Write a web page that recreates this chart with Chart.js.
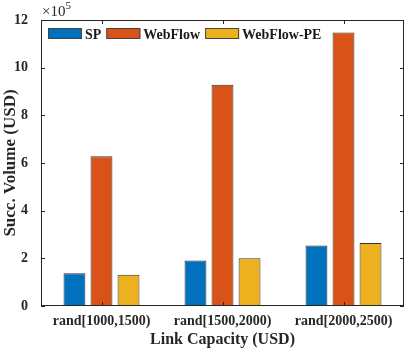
<!DOCTYPE html>
<html>
<head>
<meta charset="utf-8">
<script src="https://cdn.jsdelivr.net/npm/chart.js@4"></script>
<style>
  html, body { margin: 0; padding: 0; background: #fff; }
  #wrap { width: 407px; height: 349px; }
</style>
</head>
<body>
<div id="wrap"><canvas id="volChart"></canvas></div>
<script>
// data (USD)
const categories = ['rand[1000,1500)', 'rand[1500,2000)', 'rand[2000,2500)'];
const spValues = [137000, 191000, 254000];
const webflowValues = [628000, 928000, 1148000];
const webflowPeValues = [131000, 200000, 264000];
const seriesNames = ['SP', 'WebFlow', 'WebFlow-PE'];
const yTicks = [0, 2, 4, 6, 8, 10, 12];   // x 10^5

const colors = ['#0072BD', '#D95319', '#EDB120'];
const FONT = '"Liberation Serif", "Times New Roman", serif';

// frame, inward ticks, exponent and legend drawn like matlab
const matlabAxes = {
    id: 'matlabAxes',
    afterDraw(chart) {
        const ctx = chart.ctx;
        const a = chart.chartArea;
        const x = chart.scales.x, y = chart.scales.y;
        ctx.save();
        ctx.strokeStyle = '#262626';
        ctx.lineWidth = 1;
        ctx.strokeRect(a.left + 0.5, a.top + 0.5, a.right - a.left - 1, a.bottom - a.top - 1);
        ctx.beginPath();
        yTicks.forEach(function(t) {
            const py = Math.round(y.getPixelForValue(t * 1e5)) + 0.5;
            ctx.moveTo(a.left, py); ctx.lineTo(a.left + 4, py);
            ctx.moveTo(a.right, py); ctx.lineTo(a.right - 4, py);
        });
        categories.forEach(function(c, i) {
            const px = Math.round(x.getPixelForValue(i)) + 0.5;
            ctx.moveTo(px, a.bottom); ctx.lineTo(px, a.bottom - 4);
            ctx.moveTo(px, a.top); ctx.lineTo(px, a.top + 4);
        });
        ctx.stroke();

        // x10^5
        ctx.fillStyle = '#262626';
        ctx.textBaseline = 'alphabetic';
        ctx.textAlign = 'left';
        ctx.font = '15px ' + FONT;
        ctx.fillText('\u00d710', a.left + 1, a.top - 4);
        const w = ctx.measureText('\u00d710').width;
        ctx.font = '11px ' + FONT;
        ctx.fillText('5', a.left + 1 + w, a.top - 11);

        // legend
        let lx = a.left + 7;
        const ly = a.top + 8;
        ctx.font = 'bold 14px ' + FONT;
        chart.data.datasets.forEach(function(ds) {
            ctx.fillStyle = ds.backgroundColor;
            ctx.fillRect(lx, ly, 34, 11);
            ctx.strokeStyle = '#444';
            ctx.strokeRect(lx + 0.5, ly + 0.5, 33, 10);
            ctx.fillStyle = '#1a1a1a';
            ctx.fillText(ds.label, lx + 37, ly + 11);
            lx += 37 + ctx.measureText(ds.label).width + 5;
        });
        ctx.restore();
    }
};

const ctx = document.getElementById('volChart').getContext('2d');
const volChart = new Chart(ctx, {
    type: 'bar',
    data: {
        labels: categories,
        datasets: [spValues, webflowValues, webflowPeValues].map(function(vals, i) {
            return {
                label: seriesNames[i],
                data: vals,
                backgroundColor: colors[i],
                borderColor: '#333',
                borderWidth: 1,
                categoryPercentage: 0.67,
                barPercentage: 0.81
            };
        })
    },
    options: {
        responsive: true,
        maintainAspectRatio: false,
        animation: false,
        layout: { padding: { top: 20, right: 3, left: 0, bottom: 0 } },
        plugins: {
            legend: { display: false },
            tooltip: { enabled: false }
        },
        scales: {
            x: {
                offset: true,
                grid: { display: false },
                border: { display: false },
                ticks: {
                    color: '#262626',
                    font: { family: FONT, size: 14, weight: 'bold' },
                    padding: -1,
                    maxRotation: 0
                },
                title: {
                    display: true,
                    text: 'Link Capacity (USD)',
                    color: '#262626',
                    font: { family: FONT, size: 16, weight: 'bold' },
                    padding: { top: 0, bottom: 0 }
                },
                afterFit: function(scale) { scale.height = 43; }
            },
            y: {
                min: 0,
                max: 12e5,
                grid: { display: false },
                border: { display: false },
                afterBuildTicks: function(scale) {
                    scale.ticks = yTicks.map(function(t) { return { value: t * 1e5 }; });
                },
                ticks: {
                    color: '#262626',
                    font: { family: FONT, size: 14, weight: 'bold' },
                    padding: 5,
                    callback: function(value) { return value / 1e5; }
                },
                title: {
                    display: true,
                    text: 'Succ. Volume (USD)',
                    color: '#262626',
                    font: { family: FONT, size: 17, weight: 'bold' },
                    padding: { top: 0, bottom: 2 }
                },
                afterFit: function(scale) { scale.width = 41; }
            }
        }
    },
    plugins: [matlabAxes]
});
</script>
</body>
</html>
